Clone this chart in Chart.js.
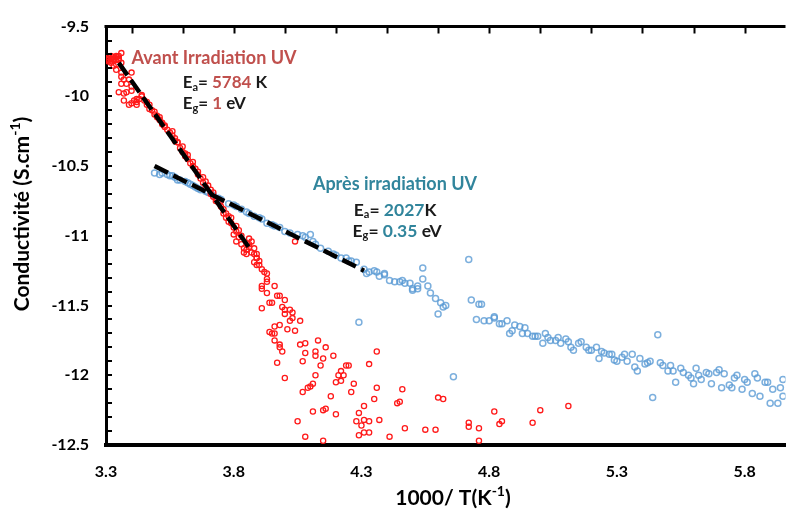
<!DOCTYPE html>
<html>
<head>
<meta charset="utf-8">
<script src="https://cdn.jsdelivr.net/npm/chart.js@4.4.1/dist/chart.umd.min.js"></script>
<style>
  html, body { margin: 0; padding: 0; background: #fff; }
</style>
</head>
<body>
<canvas id="mainChart" width="791" height="511"></canvas>
<script>
// Avant irradiation UV (red open circles)
var avantX = [3.31, 3.31, 3.32, 3.32, 3.33, 3.33, 3.34, 3.34, 3.34, 3.35, 3.36, 3.33, 3.34, 3.34, 3.36, 3.36,
  3.37, 3.36, 3.35, 3.37, 3.38, 3.37, 3.39, 3.40, 3.40, 3.39, 3.40, 3.42, 3.42, 3.43, 3.44, 3.46, 3.47, 3.47,
  3.49, 3.50, 3.51, 3.52, 3.53, 3.54, 3.56, 3.57, 3.58, 3.40, 3.38, 3.41, 3.42, 3.56, 3.58, 3.60, 3.61, 3.62,
  3.63, 3.65, 3.66, 3.67, 3.69, 3.69, 3.71, 3.72, 3.73, 3.73, 3.75, 3.76, 3.77, 3.77, 3.79, 3.79, 3.81, 3.81,
  3.80, 3.82, 3.81, 3.83, 3.84, 3.86, 3.86, 3.87, 3.88, 3.87, 3.89, 3.89, 3.90, 3.84, 3.85, 3.89, 3.89, 3.93,
  3.93, 3.93, 3.91, 3.91, 3.96, 3.93, 3.97, 3.98, 4.00, 3.94, 3.95, 3.91, 3.99, 4.00, 4.02, 4.03, 4.00, 4.03,
  4.02, 4.06, 3.98, 3.96, 4.01, 4.04, 3.94, 3.95, 3.96, 3.96, 3.98, 3.98, 3.99, 4.06, 4.08, 4.13, 4.16, 4.12,
  4.08, 4.12, 4.15, 4.19, 4.07, 3.97, 4.14, 4.24, 4.25, 4.33, 4.36, 4.21, 4.22, 4.23, 4.20, 4.22, 4.12, 4.00,
  4.27, 4.10, 4.09, 4.11, 4.07, 4.18, 4.26, 4.36, 4.46, 4.35, 4.31, 4.44, 4.45, 4.60, 4.62, 4.11, 4.15, 4.16,
  4.20, 4.29, 4.05, 4.28, 4.31, 4.33, 4.37, 4.30, 4.47, 4.55, 4.59, 4.72, 4.72, 4.76, 4.31, 4.33, 4.29, 4.41,
  4.08, 4.15, 4.76, 4.82, 4.84, 4.85, 4.97, 5.00, 5.11, 4.04,
  3.31, 3.32, 3.33, 3.35, 3.36, 3.35, 3.31, 3.44, 3.45, 3.46, 3.48, 3.49, 3.50, 3.51, 3.52, 3.53, 3.55, 3.57,
  3.59, 3.60, 3.61, 3.62, 3.64, 3.64, 3.66, 3.68, 3.68, 3.70, 3.71, 3.72, 3.74, 3.75, 3.76, 3.78, 3.78, 3.80,
  3.82, 3.83, 3.85, 3.86, 3.88, 3.90, 3.88, 3.91, 3.92];
var avantY = [-9.72, -9.74, -9.73, -9.71, -9.74, -9.73, -9.72, -9.71, -9.74, -9.73, -9.69, -9.78, -9.81, -9.77,
  -9.83, -9.86, -9.88, -9.91, -9.97, -9.98, -9.97, -10.03, -9.88, -9.93, -9.96, -10.06, -10.05, -10.06, -10.02,
  -10.02, -9.99, -10.04, -10.06, -10.09, -10.13, -10.15, -10.17, -10.19, -10.22, -10.24, -10.28, -10.30, -10.33,
  -9.83, -9.91, -10.03, -10.04, -10.25, -10.33, -10.36, -10.41, -10.45, -10.48, -10.52, -10.56, -10.59, -10.61,
  -10.65, -10.67, -10.69, -10.73, -10.75, -10.79, -10.81, -10.84, -10.87, -10.87, -10.91, -10.93, -10.97, -10.99,
  -11.01, -11.04, -11.06, -11.09, -11.02, -11.06, -11.04, -11.09, -11.12, -11.13, -11.16, -11.21, -11.12, -11.13,
  -11.16, -11.21, -11.27, -11.31, -11.33, -11.36, -11.38, -11.36, -11.41, -11.43, -11.43, -11.46, -11.48, -11.48,
  -11.52, -11.51, -11.53, -11.53, -11.55, -11.56, -11.59, -11.61, -11.61, -11.64, -11.65, -11.67, -11.68, -11.69,
  -11.70, -11.70, -11.75, -11.78, -11.80, -11.83, -11.78, -11.77, -11.75, -11.80, -11.83, -11.84, -11.86, -11.88,
  -11.86, -11.90, -11.91, -11.93, -11.93, -11.93, -11.92, -11.83, -12.00, -11.97, -12.00, -12.05, -12.04, -12.00,
  -12.02, -12.06, -12.08, -12.09, -12.06, -12.12, -12.15, -12.12, -12.09, -12.10, -12.17, -12.22, -12.20, -12.19,
  -12.16, -12.17, -12.26, -12.25, -12.24, -12.28, -12.27, -12.33, -12.33, -12.32, -12.33, -12.32, -12.36, -12.38,
  -12.39, -12.39, -12.34, -12.37, -12.38, -12.41, -12.41, -12.43, -12.44, -12.44, -12.47, -12.47, -12.26, -12.35,
  -12.33, -12.34, -12.25, -12.22, -11.04,
  -9.75, -9.76, -9.72, -9.74, -9.76, -9.71, -9.73, -10.00, -10.03, -10.06, -10.10, -10.11, -10.14, -10.15,
  -10.20, -10.21, -10.26, -10.32, -10.37, -10.40, -10.43, -10.42, -10.50, -10.47, -10.54, -10.58, -10.62, -10.64,
  -10.70, -10.72, -10.76, -10.75, -10.84, -10.86, -10.90, -10.94, -10.96, -11.00, -11.10, -11.08, -11.13, -11.18,
  -11.19, -11.24, -11.26];

// Après irradiation UV (blue open circles)
var apresX = [3.49, 3.52, 3.54, 3.56, 3.59, 3.61, 3.63, 3.66, 3.69, 3.57, 3.62, 3.65, 3.67, 3.70, 3.75, 3.78,
  3.81, 3.83, 3.86, 3.88, 3.91, 3.93, 3.96, 3.98, 4.00, 4.05, 4.07, 4.10, 4.11, 4.14, 4.17, 4.19, 4.22, 4.24,
  4.25, 4.28, 4.31, 4.33, 4.35, 4.36, 4.39, 4.32, 4.37, 4.39, 4.41, 4.43, 4.45, 4.46, 4.47, 4.49, 4.50, 4.50,
  4.52, 4.52, 4.54, 4.54, 4.56, 4.57, 4.59, 4.61, 4.62, 4.60, 4.72, 4.73, 4.76, 4.77, 4.75, 4.78, 4.80, 4.82,
  4.29, 4.66, 4.63, 4.82, 4.84, 4.85, 4.87, 4.88, 4.89, 4.90, 4.92, 4.93, 4.94, 4.95, 4.97, 4.98, 4.99, 5.01,
  5.02, 5.03, 5.04, 5.06, 5.07, 5.08, 5.10, 5.11, 5.12, 5.13, 5.15, 5.16, 5.18, 5.19, 5.20, 5.22, 5.23, 5.24,
  5.25, 5.27, 5.28, 5.29, 5.30, 5.32, 5.33, 5.34, 5.36, 5.37, 5.38, 5.39, 5.41, 5.42, 5.43, 5.44, 5.46, 5.47,
  5.48, 5.50, 5.51, 5.52, 5.53, 5.55, 5.56, 5.58, 5.59, 5.60, 5.61, 5.62, 5.63, 5.65, 5.66, 5.67, 5.69, 5.70,
  5.71, 5.72, 5.74, 5.75, 5.76, 5.77, 5.79, 5.80, 5.81, 5.83, 5.84, 5.85, 5.86, 5.88, 5.89, 5.90, 5.91, 5.93,
  5.94, 5.95, 5.95,
  3.51, 3.55, 3.58, 3.64, 3.72, 3.74, 3.80, 3.85, 3.90, 3.95, 4.02, 4.08, 4.12, 4.20, 4.26];
var apresY = [-10.55, -10.55, -10.56, -10.57, -10.60, -10.61, -10.63, -10.66, -10.68, -10.58, -10.62, -10.65,
  -10.67, -10.69, -10.74, -10.77, -10.79, -10.81, -10.84, -10.86, -10.88, -10.91, -10.93, -10.94, -10.97, -10.99,
  -11.00, -10.99, -11.04, -11.09, -11.11, -11.13, -11.16, -11.16, -11.18, -11.19, -11.24, -11.26, -11.25, -11.26,
  -11.27, -11.27, -11.29, -11.28, -11.32, -11.33, -11.33, -11.32, -11.34, -11.34, -11.38, -11.39, -11.38, -11.36,
  -11.23, -11.31, -11.36, -11.41, -11.45, -11.48, -11.51, -11.56, -11.17, -11.46, -11.49, -11.49, -11.60, -11.61,
  -11.61, -11.58, -11.62, -12.01, -11.50, -11.59, -11.63, -11.63, -11.61, -11.70, -11.68, -11.64, -11.65, -11.70,
  -11.66, -11.70, -11.72, -11.72, -11.72, -11.77, -11.70, -11.73, -11.75, -11.75, -11.73, -11.77, -11.74, -11.76,
  -11.80, -11.82, -11.77, -11.76, -11.80, -11.82, -11.82, -11.80, -11.88, -11.83, -11.84, -11.85, -11.85, -11.89,
  -11.90, -11.87, -11.85, -11.90, -11.85, -11.94, -11.97, -11.88, -11.92, -11.91, -11.90, -12.16, -11.71, -11.91,
  -11.93, -11.97, -11.93, -11.97, -12.05, -11.95, -11.98, -12.00, -12.02, -12.06, -11.95, -12.00, -12.03, -11.98,
  -11.99, -12.06, -11.98, -11.96, -12.09, -11.99, -12.07, -12.09, -12.02, -12.00, -12.10, -12.03, -12.05, -12.13,
  -11.99, -12.02, -12.15, -12.05, -12.05, -12.20, -12.10, -12.20, -12.09, -12.03, -12.15,
  -10.56, -10.57, -10.60, -10.64, -10.71, -10.73, -10.78, -10.83, -10.87, -10.92, -10.98, -11.01, -11.06, -11.14,
  -11.18];

// linear fits (dashed black)
var fitAvantX = [3.35, 3.87];
var fitAvantY = [-9.76, -11.11];
var fitApresX = [3.49, 4.31];
var fitApresY = [-10.50, -11.25];

var xTicks = [3.3, 3.8, 4.3, 4.8, 5.3, 5.8];
var yTicks = [-12.5, -12, -11.5, -11, -10.5, -10, -9.5];

var FONT = 'Lato';
var RED_TXT = '#C0504D';
var TEAL_TXT = '#31859C';
var DARK = '#1a1a1a';

function pts(xs, ys) {
    return xs.map(function (x, i) { return { x: x, y: ys[i] }; });
}

// text pieces: [text, color, 'n' | 'sub' | 'sup']
function drawRuns(ctx, x, y, runs, size) {
    var cx = x;
    runs.forEach(function (r) {
        var small = r[2] === 'sub' || r[2] === 'sup';
        ctx.font = 'bold ' + (small ? Math.round(size * 0.65) : size) + 'px ' + FONT;
        ctx.fillStyle = r[1];
        var dy = r[2] === 'sub' ? size * 0.28 : (r[2] === 'sup' ? -size * 0.32 : 0);
        ctx.fillText(r[0], cx, y + dy);
        cx += ctx.measureText(r[0]).width;
    });
    return cx - x;
}

function runsWidth(ctx, runs, size) {
    var w = 0;
    runs.forEach(function (r) {
        var small = r[2] === 'sub' || r[2] === 'sup';
        ctx.font = 'bold ' + (small ? Math.round(size * 0.65) : size) + 'px ' + FONT;
        w += ctx.measureText(r[0]).width;
    });
    return w;
}

var framePlugin = {
    id: 'frame',
    afterDatasetsDraw: function (chart) {
        var ctx = chart.ctx;
        var area = chart.chartArea;
        var xs = chart.scales.x, ys = chart.scales.y;
        ctx.save();

        // top border with inner ticks
        ctx.strokeStyle = '#000';
        ctx.lineWidth = 3;
        ctx.beginPath();
        ctx.moveTo(area.left - 1.5, area.top);
        ctx.lineTo(area.right, area.top);
        ctx.stroke();
        ctx.lineWidth = 2;
        ctx.beginPath();
        for (var i = 34; i <= 58; i += 2) {
            var px = Math.round(xs.getPixelForValue(i / 10)) + 0.5;
            ctx.moveTo(px, area.top);
            ctx.lineTo(px, area.top + 7);
        }
        // left border inner ticks every 0.1
        for (var j = -124; j <= -96; j++) {
            var py = Math.round(ys.getPixelForValue(j / 10));
            ctx.moveTo(area.left, py);
            ctx.lineTo(area.left + 6, py);
        }
        ctx.stroke();

        // annotations
        ctx.textBaseline = 'middle';
        ctx.textAlign = 'left';
        drawRuns(ctx, xs.getPixelForValue(3.40), ys.getPixelForValue(-9.73),
            [['Avant Irradiation UV', RED_TXT, 'n']], 18);
        drawRuns(ctx, xs.getPixelForValue(3.60), ys.getPixelForValue(-9.90),
            [['E', DARK, 'n'], ['a', DARK, 'sub'], ['= ', DARK, 'n'], ['5784', RED_TXT, 'n'], [' K', DARK, 'n']], 17);
        drawRuns(ctx, xs.getPixelForValue(3.60), ys.getPixelForValue(-10.055),
            [['E', DARK, 'n'], ['g', DARK, 'sub'], ['= ', DARK, 'n'], ['1', RED_TXT, 'n'], [' eV', DARK, 'n']], 17);
        drawRuns(ctx, xs.getPixelForValue(4.11), ys.getPixelForValue(-10.63),
            [['Après irradiation UV', TEAL_TXT, 'n']], 18);
        drawRuns(ctx, xs.getPixelForValue(4.27), ys.getPixelForValue(-10.815),
            [['E', DARK, 'n'], ['a', DARK, 'sub'], ['= ', DARK, 'n'], ['2027', TEAL_TXT, 'n'], ['K', DARK, 'n']], 17.5);
        drawRuns(ctx, xs.getPixelForValue(4.265), ys.getPixelForValue(-10.965),
            [['E', DARK, 'n'], ['g', DARK, 'sub'], ['= ', DARK, 'n'], ['0.35', TEAL_TXT, 'n'], [' eV', DARK, 'n']], 17.5);

        // axis titles
        var ts = 21;
        var xt = [['1000/ T(K', '#000', 'n'], ['-1', '#000', 'sup'], [')', '#000', 'n']];
        var wx = runsWidth(ctx, xt, ts);
        drawRuns(ctx, 453 - wx / 2, 498, xt, ts);

        var yt = [['Conductivité (S.cm', '#000', 'n'], ['-1', '#000', 'sup'], [')', '#000', 'n']];
        var wy = runsWidth(ctx, yt, ts);
        ctx.translate(22, 214);
        ctx.rotate(-Math.PI / 2);
        drawRuns(ctx, -wy / 2, 0, yt, ts);
        ctx.restore();
    }
};

var tickFont = { family: FONT, weight: 'bold', size: 16 };

new Chart(document.getElementById('mainChart'), {
    type: 'scatter',
    data: {
        datasets: [
            {
                label: 'fit avant',
                type: 'line',
                data: pts(fitAvantX, fitAvantY),
                borderColor: '#000',
                borderWidth: 4.5,
                borderDash: [15, 6],
                pointRadius: 0,
                fill: false,
                order: 0
            },
            {
                label: 'fit apres',
                type: 'line',
                data: pts(fitApresX, fitApresY),
                borderColor: '#000',
                borderWidth: 4.5,
                borderDash: [15, 6],
                pointRadius: 0,
                fill: false,
                order: 0
            },
            {
                label: 'Avant irradiation UV',
                data: pts(avantX, avantY),
                pointStyle: 'circle',
                pointRadius: 2.6,
                pointBorderWidth: 1.3,
                borderColor: '#ff1a1a',
                backgroundColor: 'rgba(255,255,255,0)',
                order: 1
            },
            {
                label: 'Après irradiation UV',
                data: pts(apresX, apresY),
                pointStyle: 'circle',
                pointRadius: 3,
                pointBorderWidth: 1.5,
                borderColor: 'rgba(91,155,213,0.8)',
                backgroundColor: 'rgba(255,255,255,0)',
                order: 2
            }
        ]
    },
    options: {
        responsive: false,
        animation: false,
        layout: { padding: { top: 24, right: 0, bottom: 0, left: 0 } },
        plugins: {
            legend: { display: false },
            tooltip: { enabled: false }
        },
        scales: {
            x: {
                type: 'linear',
                min: 3.3,
                max: 5.96,
                afterBuildTicks: function (s) { s.ticks = xTicks.map(function (v) { return { value: v }; }); },
                afterFit: function (s) { s.height = 66; },
                grid: { display: false, drawTicks: false },
                border: { display: true, color: '#000', width: 4 },
                ticks: { padding: 17, color: '#000', font: tickFont, maxRotation: 0, callback: function (v) { return String(v); } }
            },
            y: {
                type: 'linear',
                min: -12.5,
                max: -9.5,
                afterBuildTicks: function (s) { s.ticks = yTicks.map(function (v) { return { value: v }; }); },
                afterFit: function (s) { s.width = 106; },
                grid: { display: false, drawTicks: false },
                border: { display: true, color: '#000', width: 3 },
                ticks: { padding: 17, color: '#000', font: tickFont, callback: function (v) { return String(v); } }
            }
        }
    },
    plugins: [framePlugin]
});
</script>
</body>
</html>
